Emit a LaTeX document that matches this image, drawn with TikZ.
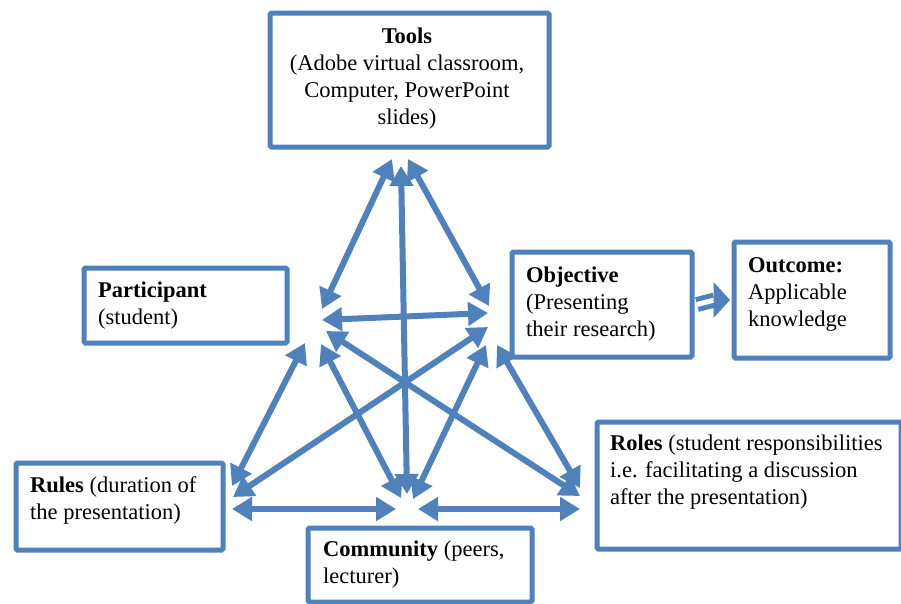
\documentclass[tikz,border=0pt]{standalone}
\usepackage{fontspec}
\setmainfont{Liberation Serif}
\usetikzlibrary{arrows.meta,calc}
\definecolor{boxblue}{RGB}{79,129,189}
\begin{document}
\begin{tikzpicture}[x=1pt,y=-1pt,
  box/.style={draw=boxblue, line width=5pt, rounded corners=1.5pt, inner sep=0pt, anchor=north west, fill=white},
  txt/.style={inner sep=0pt, anchor=base west, font=\fontsize{22.5}{27}\selectfont},
  link/.style={draw=boxblue, line width=6pt, {Triangle[length=20pt 0,width=23pt 0]}-{Triangle[length=20pt 0,width=23pt 0]}},
  ]
\useasboundingbox[fill=white] (0,0) rectangle (901,603);

% boxes
\node[box, minimum width=279pt, minimum height=134pt] (tools) at (267.5,10.5) {};
\node[box, minimum width=203pt, minimum height=75pt] (part) at (81.5,265.5) {};
\node[box, minimum width=180pt, minimum height=105pt] (obj) at (509.5,249.5) {};
\node[box, minimum width=156pt, minimum height=116pt] (out) at (731.5,239.5) {};
\node[box, minimum width=207pt, minimum height=87pt] (rules) at (13.5,460.5) {};
\node[box, minimum width=224pt, minimum height=74pt] (comm) at (305.5,525.5) {};
\node[box, minimum width=304pt, minimum height=127pt] (roles) at (594.5,419.5) {};

% texts
\node[txt, anchor=base] (toolsT) at (407,43) {\begin{tabular}[t]{@{}c@{}}\textbf{Tools}\\(Adobe virtual classroom,\\Computer, PowerPoint\\slides)\end{tabular}};
\node[txt] (partT) at (98,297) {\begin{tabular}[t]{@{}l@{}}\textbf{Participant}\\(student)\end{tabular}};
\node[txt] (objT) at (526,282) {\begin{tabular}[t]{@{}l@{}}\textbf{Objective}\\(Presenting\\their research)\end{tabular}};
\node[txt] (outT) at (748,272) {\begin{tabular}[t]{@{}l@{}}\textbf{Outcome:}\\Applicable\\knowledge\end{tabular}};
\node[txt] (rulesT) at (30,492) {\begin{tabular}[t]{@{}l@{}}\textbf{Rules} (duration of\\the presentation)\end{tabular}};
\node[txt] (commT) at (323,556) {\begin{tabular}[t]{@{}l@{}}\textbf{Community} (peers,\\lecturer)\end{tabular}};
\node[txt] (rolesT) at (610,450) {\begin{tabular}[t]{@{}l@{}}\textbf{Roles} (student responsibilities\\i.e. facilitating a discussion\\after the presentation)\end{tabular}};

% hub end points
\coordinate (t1) at (392,159);
\coordinate (t2) at (401,166);
\coordinate (t3) at (408,159);
\coordinate (p1) at (322,309);
\coordinate (p2) at (322,320);
\coordinate (p3) at (326,331);
\coordinate (p4) at (305,343);
\coordinate (p5) at (321,344);
\coordinate (o1) at (489,306);
\coordinate (o2) at (488,313);
\coordinate (o3) at (488,327);
\coordinate (o4) at (486,345);
\coordinate (o5) at (497,345);
\coordinate (r1) at (232,486);
\coordinate (r2) at (233,497);
\coordinate (r3) at (232,509);
\coordinate (c1) at (401,498);
\coordinate (c2) at (407,494);
\coordinate (c3) at (413,499);
\coordinate (c4) at (396,509);
\coordinate (c5) at (418,509);
\coordinate (l1) at (580,488);
\coordinate (l2) at (580,496);
\coordinate (l3) at (580,509);

% connectors
\draw[link] (t1) -- (p1);
\draw[link] (t2) -- (c2);
\draw[link] (t3) -- (o1);
\draw[link] (p2) -- (o2);
\draw[link] (p3) -- (l2);
\draw[link] (p4) -- (r1);
\draw[link] (p5) -- (c1);
\draw[link] (o3) -- (r2);
\draw[link] (o4) -- (c3);
\draw[link] (o5) -- (l1);
\draw[link] (r3) -- (c4);
\draw[link] (c5) -- (l3);

% objective => outcome
\coordinate (dA) at ($(obj.east)+(2.5,0)$);
\coordinate (dB) at ($(out.west)+(-17,0)$);
\coordinate (dC) at ($(out.west)+(-1.5,0)$);
\draw[boxblue, line width=5pt, double=white, double distance=5pt] (dA) -- (dB);
\fill[boxblue] (dC) -- ($(dB)+(-1,-18)$) -- ($(dB)+(-1,18)$) -- cycle;
\end{tikzpicture}
\end{document}
